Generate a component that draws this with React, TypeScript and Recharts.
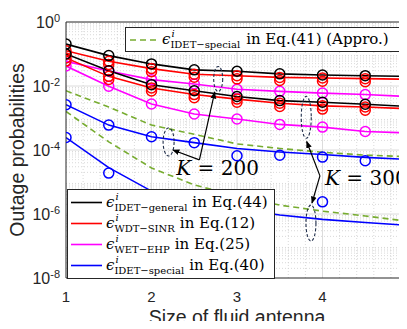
import React from 'react';
import {
  ComposedChart,
  Line,
  XAxis,
  YAxis,
  ReferenceLine,
  ReferenceDot,
  Legend,
} from 'recharts';

const antennaSizes = [1, 1.5, 2, 2.5, 3, 3.5, 4, 4.5, 5];

// K = 200
const general200 = [0.204, 0.089, 0.049, 0.032, 0.029, 0.024, 0.022, 0.021, 0.02];
const sinr200 = [0.126, 0.059, 0.035, 0.0234, 0.0209, 0.0186, 0.0178, 0.017, 0.0162];
const sinrSim200 = [0.1, 0.047, 0.028, 0.0187, 0.0167, 0.0149, 0.0142, 0.0136, 0.013];
const ehp200 = [0.059, 0.0295, 0.0158, 0.0115, 0.0079, 0.0068, 0.006, 0.0054, 0.0047];
const special200 = [2.6e-3, 6.0e-4, 2.6e-4, 1.7e-4, 1.12e-4, 8.7e-5, 7.2e-5, 5.9e-5, 5.1e-5];
const specialSim200 = [2.6e-3, 6.0e-4, 2.6e-4, 1.7e-4, 6.6e-5, 6.9e-5, 6.0e-5, 4.6e-5, 4.2e-5];
const approx200 = [7.1e-3, 2.2e-3, 6.0e-4, 3.1e-4, 1.55e-4, 1.12e-4, 8.5e-5, 6.9e-5, 6.2e-5];

// K = 300
const general300 = [0.1, 0.03, 0.011, 0.0071, 0.0047, 0.0035, 0.0031, 0.0027, 0.0023];
const sinr300 = [0.075, 0.02, 0.0087, 0.0054, 0.0039, 0.0029, 0.0024, 0.0022, 0.00195];
const sinrSim300 = [0.06, 0.016, 0.007, 0.0043, 0.0031, 0.0023, 0.0019, 0.00176, 0.00156];
const ehp300 = [0.042, 0.0098, 0.00275, 0.00133, 0.00093, 0.00063, 0.00052, 0.00038, 0.00034];
const special300 = [2.45e-4, 2.8e-5, 5.2e-6, 2.4e-6, 1.45e-6, 9.3e-7, 6.8e-7, 5.4e-7, 4.4e-7];
const specialSim300 = [2.45e-4, 1.9e-5, null, null, null, null, 2.4e-6, null, null];
const approx300 = [1.6e-3, 1.8e-4, 2.75e-5, 8.1e-6, 3.6e-6, 1.9e-6, 1.23e-6, 8.7e-7, 5.9e-7];

const xTicks = [1, 2, 3, 4, 5];
const yTicks = [1e-8, 1e-6, 1e-4, 1e-2, 1];
const decades = [1e-8, 1e-7, 1e-6, 1e-5, 1e-4, 1e-3, 1e-2, 1e-1];
const minorFactors = [2, 3, 4, 5, 6, 7, 8, 9];
const xMinor = [1.2, 1.4, 1.6, 1.8, 2.2, 2.4, 2.6, 2.8, 3.2, 3.4, 3.6, 3.8, 4.2, 4.4, 4.6, 4.8];

const legendRows = [
  { sub: 'IDET−general', eq: 'in Eq.(44)', color: '#000000' },
  { sub: 'WDT−SINR', eq: 'in Eq.(12)', color: '#FF0000' },
  { sub: 'WET−EHP', eq: 'in Eq.(25)', color: '#FF00FF' },
  { sub: 'IDET−special', eq: 'in Eq.(40)', color: '#0000FF' },
];

// annotation anchors (x, y in data units)
const ellipses = [
  { x: 2.78, y: 0.0166, rx: 4.5, ry: 12.5 },
  { x: 3.81, y: 1.05e-3, rx: 5, ry: 21 },
  { x: 2.2, y: 1.78e-4, rx: 5.5, ry: 14 },
  { x: 3.865, y: 5.2e-7, rx: 5, ry: 18 },
];
const arrows = [
  [{ x: 2.56, y: 4.9e-5 }, { x: 2.74, y: 6.5e-3 }],
  [{ x: 2.56, y: 4.9e-5 }, { x: 2.25, y: 1.0e-4 }],
  [{ x: 3.97, y: 1.55e-5 }, { x: 3.815, y: 1.85e-4 }],
  [{ x: 3.97, y: 1.55e-5 }, { x: 3.877, y: 2.2e-6 }],
];
const kLabels = [
  { x: 2.29, y: 2.75e-5, text: '200' },
  { x: 4.03, y: 1.33e-5, text: '300' },
];

const data = antennaSizes.map((x, i) => ({
  x,
  general200: general200[i],
  sinr200: sinr200[i],
  sinrSim200: sinrSim200[i],
  ehp200: ehp200[i],
  special200: special200[i],
  specialSim200: specialSim200[i],
  approx200: approx200[i],
  general300: general300[i],
  sinr300: sinr300[i],
  sinrSim300: sinrSim300[i],
  ehp300: ehp300[i],
  special300: special300[i],
  specialSim300: specialSim300[i],
  approx300: approx300[i],
}));

const sans = '"Liberation Sans", Arial, sans-serif';
const serif = '"DejaVu Serif", serif';
const axisColor = '#262626';

const YTick = (props: any) => {
  const { x, y, payload } = props;
  const exp = Math.round(Math.log10(payload.value));
  return (
    <text x={x} y={y} textAnchor="end" fill={axisColor} fontFamily={sans}>
      <tspan fontSize={16} dy={6}>10</tspan>
      <tspan fontSize={11} dy={-6}>{exp}</tspan>
    </text>
  );
};

const XTick = (props: any) => {
  const { x, y, payload } = props;
  return (
    <text x={x} y={y} dy={24} textAnchor="middle" fill={axisColor} fontFamily={sans} fontSize={15}>
      {payload.value}
    </text>
  );
};

// epsilon with stacked superscript i and roman subscript
const Eps = ({ sub }: { sub: string }) => (
  <>
    <span style={{ fontStyle: 'italic', flex: 'none' }}>ϵ</span>
    <span
      style={{
        display: 'flex',
        flexDirection: 'column',
        justifyContent: 'center',
        alignSelf: 'stretch',
        fontSize: 10,
        lineHeight: '10px',
        flex: 'none',
      }}
    >
      <span style={{ fontStyle: 'italic', paddingLeft: 1 }}>i</span>
      <span style={{ marginTop: 1 }}>{sub}</span>
    </span>
  </>
);

const BottomLegend = () => (
  <div
    style={{
      width: 206,
      height: 86,
      border: `1px solid ${axisColor}`,
      background: '#fff',
      fontFamily: serif,
      fontSize: 15,
      color: '#000',
      paddingTop: 2,
      boxSizing: 'content-box',
      whiteSpace: 'nowrap',
    }}
  >
    {legendRows.map((r) => (
      <div key={r.sub} style={{ display: 'flex', alignItems: 'center', height: 21, lineHeight: '21px' }}>
        <svg width={38} height={21} style={{ flex: 'none' }}>
          <line x1={3} x2={34} y1={10.5} y2={10.5} stroke={r.color} strokeWidth={1.6} />
        </svg>
        <Eps sub={r.sub} />
        <span style={{ marginLeft: 5 }}>{r.eq}</span>
      </div>
    ))}
  </div>
);

const TopLegend = () => (
  <div
    style={{
      width: 275,
      height: 23,
      border: `1px solid ${axisColor}`,
      background: '#fff',
      fontFamily: serif,
      fontSize: 15,
      color: '#000',
      display: 'flex',
      alignItems: 'center',
      lineHeight: '23px',
      whiteSpace: 'nowrap',
    }}
  >
    <svg width={36} height={23} style={{ flex: 'none' }}>
      <line x1={4} x2={30} y1={12} y2={12} stroke="#77AC30" strokeWidth={1.6} strokeDasharray="6 4" />
    </svg>
    <Eps sub="IDET−special" />
    <span style={{ marginLeft: 6 }}>in Eq.(41) (Appro.)</span>
  </div>
);

const dot = (color: string) => ({ r: 5, fill: 'none', stroke: color, strokeWidth: 1.5 });

export default function App() {
  return (
    <div style={{ margin: -8, width: 407, height: 329, overflow: 'hidden', position: 'relative', background: '#fff' }}>
      <ComposedChart width={412} height={329} data={data} margin={{ top: 22, right: 4, bottom: 0, left: 0 }}>
        <defs>
          <marker id="arrowHead" viewBox="0 0 10 10" refX="9" refY="5" markerWidth="6" markerHeight="6" orient="auto">
            <path d="M0,1 L10,5 L0,9 z" fill="#000" />
          </marker>
        </defs>
        <XAxis
          type="number"
          dataKey="x"
          domain={[1, 5]}
          ticks={xTicks}
          allowDataOverflow
          height={51}
          tickSize={0}
          tickMargin={0}
          tick={<XTick />}
          axisLine={{ stroke: axisColor }}
          tickLine={false}
          label={{
            value: 'Size of fluid antenna',
            position: 'insideBottom',
            offset: 5,
            style: { fontFamily: sans, fontSize: 19.5, fill: axisColor },
          }}
        />
        <YAxis
          scale="log"
          domain={[1e-8, 1]}
          ticks={yTicks}
          allowDataOverflow
          width={66}
          tickSize={0}
          tickMargin={6}
          tick={<YTick />}
          axisLine={{ stroke: axisColor }}
          tickLine={false}
          label={{
            value: 'Outage probabilities',
            angle: -90,
            position: 'insideLeft',
            offset: 17,
            style: { fontFamily: sans, fontSize: 19.5, fill: axisColor, textAnchor: 'middle' },
          }}
        />

        {decades.flatMap((d) =>
          minorFactors.map((k) => (
            <ReferenceLine key={`my${d}-${k}`} y={d * k} stroke="#cfcfcf" strokeDasharray="1 2" strokeWidth={0.8} />
          ))
        )}
        {xMinor.map((v) => (
          <ReferenceLine key={`mx${v}`} x={v} stroke="#cfcfcf" strokeDasharray="1 2" strokeWidth={0.8} />
        ))}
        {yTicks.slice(1, -1).map((v) => (
          <ReferenceLine key={`gy${v}`} y={v} stroke="#dcdcdc" />
        ))}
        {xTicks.slice(1, -1).map((v) => (
          <ReferenceLine key={`gx${v}`} x={v} stroke="#dcdcdc" />
        ))}
        <ReferenceLine y={1} stroke={axisColor} />
        <ReferenceLine x={5} stroke={axisColor} />

        <Line dataKey="approx200" stroke="#77AC30" strokeWidth={1.6} strokeDasharray="6 4" dot={false} isAnimationActive={false} />
        <Line dataKey="approx300" stroke="#77AC30" strokeWidth={1.6} strokeDasharray="6 4" dot={false} isAnimationActive={false} />
        <Line dataKey="special200" stroke="#0000FF" strokeWidth={1.6} dot={false} isAnimationActive={false} />
        <Line dataKey="special300" stroke="#0000FF" strokeWidth={1.6} dot={false} isAnimationActive={false} />
        <Line dataKey="specialSim200" stroke="none" dot={dot('#0000FF')} isAnimationActive={false} />
        <Line dataKey="specialSim300" stroke="none" dot={dot('#0000FF')} isAnimationActive={false} />
        <Line dataKey="ehp200" stroke="#FF00FF" strokeWidth={1.6} dot={dot('#FF00FF')} isAnimationActive={false} />
        <Line dataKey="ehp300" stroke="#FF00FF" strokeWidth={1.6} dot={dot('#FF00FF')} isAnimationActive={false} />
        <Line dataKey="sinrSim200" stroke="none" dot={dot('#FF0000')} isAnimationActive={false} />
        <Line dataKey="sinrSim300" stroke="none" dot={dot('#FF0000')} isAnimationActive={false} />
        <Line dataKey="sinr200" stroke="#FF0000" strokeWidth={1.6} dot={dot('#FF0000')} isAnimationActive={false} />
        <Line dataKey="sinr300" stroke="#FF0000" strokeWidth={1.6} dot={dot('#FF0000')} isAnimationActive={false} />
        <Line dataKey="general200" stroke="#000000" strokeWidth={1.6} dot={dot('#000000')} isAnimationActive={false} />
        <Line dataKey="general300" stroke="#000000" strokeWidth={1.6} dot={dot('#000000')} isAnimationActive={false} />

        {ellipses.map((e, i) => (
          <ReferenceDot
            key={`el${i}`}
            x={e.x}
            y={e.y}
            shape={(p: any) => (
              <ellipse cx={p.cx} cy={p.cy} rx={e.rx} ry={e.ry} fill="none" stroke="#1f2d4a" strokeWidth={1.1} strokeDasharray="3 2" />
            )}
          />
        ))}
        {arrows.map((a, i) => (
          <ReferenceLine key={`ar${i}`} segment={a} stroke="#000" strokeWidth={1.2} markerEnd="url(#arrowHead)" />
        ))}
        {kLabels.map((k) => (
          <ReferenceDot
            key={k.text}
            x={k.x}
            y={k.y}
            shape={(p: any) => (
              <text x={p.cx} y={p.cy} dy={7} fontFamily={serif} fontSize={20} fill="#000">
                <tspan fontStyle="italic">K</tspan> = {k.text}
              </text>
            )}
          />
        ))}

        <Legend
          layout="horizontal"
          verticalAlign="middle"
          align="center"
          wrapperStyle={{ left: 67, top: 189, width: 'auto' }}
          content={() => <BottomLegend />}
        />
        <Legend
          layout="horizontal"
          verticalAlign="middle"
          align="center"
          wrapperStyle={{ left: 125, top: 27, width: 'auto' }}
          content={() => <TopLegend />}
        />
      </ComposedChart>
    </div>
  );
}
